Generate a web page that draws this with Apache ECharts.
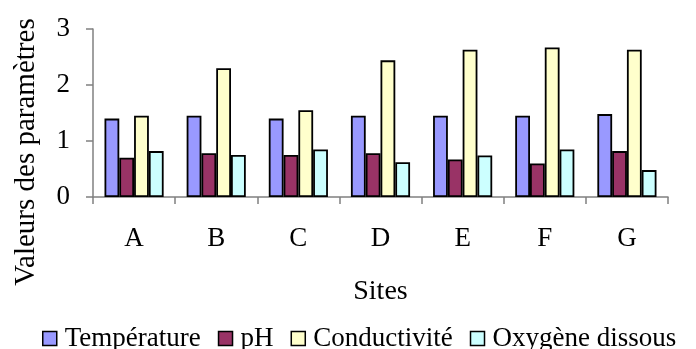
<!DOCTYPE html>
<html>
<head>
<meta charset="utf-8">
<script src="https://cdn.jsdelivr.net/npm/echarts@6/dist/echarts.min.js"></script>
<style>html,body{margin:0;padding:0;background:#fff}#c{width:696px;height:349px}</style>
</head>
<body>
<div id="c"></div>
<script>
const categories = ['A', 'B', 'C', 'D', 'E', 'F', 'G'];
const temperature = [1.40, 1.45, 1.40, 1.45, 1.45, 1.45, 1.48];
const ph = [0.70, 0.78, 0.75, 0.78, 0.67, 0.60, 0.82];
const conductivite = [1.45, 2.30, 1.55, 2.44, 2.63, 2.67, 2.63];
const oxygene = [0.82, 0.75, 0.85, 0.62, 0.74, 0.85, 0.48];
const seriesNames = ['Température', 'pH', 'Conductivité', 'Oxygène dissous'];
const yTicks = [0, 1, 2, 3];

const colors = ['#9999FF', '#993366', '#FFFFCC', '#CCFFFF'];
const font = 'Liberation Serif';
const dataSets = [temperature, ph, conductivite, oxygene];

const chart = echarts.init(document.getElementById('c'), null, {renderer: 'canvas'});
chart.setOption({
  animation: false,
  backgroundColor: '#ffffff',
  textStyle: {fontFamily: font, color: '#000'},
  grid: {left: 93, right: 28, top: 29, bottom: 152, containLabel: false},
  legend: {
    left: 37, top: 320,
    itemWidth: 14, itemHeight: 14, itemGap: 17,
    icon: 'rect',
    itemStyle: {borderColor: '#000', borderWidth: 1.5},
    textStyle: {fontFamily: font, fontSize: 27, color: '#000', padding: [0, 0, 0, 3]},
    data: seriesNames
  },
  xAxis: {
    type: 'category',
    data: categories,
    name: 'Sites',
    nameLocation: 'middle',
    nameGap: 81,
    nameTextStyle: {fontFamily: font, fontSize: 28, color: '#000'},
    axisLine: {show: true, lineStyle: {color: '#808080', width: 1.5}},
    axisTick: {show: true, length: 7, lineStyle: {color: '#808080', width: 1.5}},
    axisLabel: {fontFamily: font, fontSize: 27, color: '#000', margin: 28}
  },
  yAxis: {
    type: 'value',
    min: yTicks[0], max: yTicks[yTicks.length - 1], interval: 1,
    name: 'Valeurs des paramètres',
    nameLocation: 'middle',
    nameGap: 52,
    nameTextStyle: {fontFamily: font, fontSize: 29, color: '#000', padding: [0, 78, 0, 0]},
    axisLine: {show: true, lineStyle: {color: '#808080', width: 1.5}},
    axisTick: {show: true, length: 7, lineStyle: {color: '#808080', width: 1.5}},
    splitLine: {show: false},
    axisLabel: {fontFamily: font, fontSize: 27, color: '#000', margin: 23}
  },
  series: seriesNames.map((n, i) => ({
    name: n,
    type: 'bar',
    data: dataSets[i],
    barGap: '0%',
    barCategoryGap: '28%',
    itemStyle: {color: colors[i], borderColor: '#000', borderWidth: 1.8}
  }))
});
</script>
</body>
</html>
